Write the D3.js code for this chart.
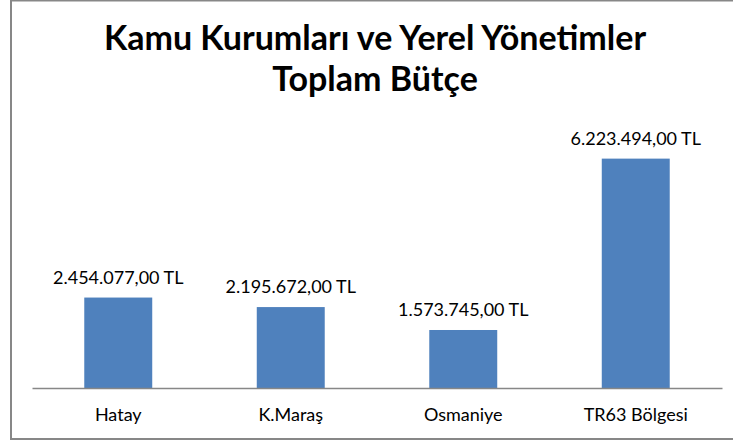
<!DOCTYPE html>
<html>
<head>
<meta charset="utf-8">
<script src="https://cdn.jsdelivr.net/npm/d3@7"></script>
<style>
  body { margin: 0; background: #fff; }
  svg { display: block; }
</style>
</head>
<body>
<div id="chart"></div>
<script>
const categories = ["Hatay", "K.Maraş", "Osmaniye", "TR63 Bölgesi"];
const values = [2454077, 2195672, 1573745, 6223494];
const valueLabels = ["2.454.077,00 TL", "2.195.672,00 TL", "1.573.745,00 TL", "6.223.494,00 TL"];
const titleLines = ["Kamu Kurumları ve Yerel Yönetimler", "Toplam Bütçe"];

const width = 733,
  height = 441,
  margin = { top: 130, right: 11, bottom: 53, left: 32 },
  font = "Lato, 'Open Sans', sans-serif";

const svg = d3
  .select("#chart")
  .append("svg")
  .attr("width", width)
  .attr("height", height);

// frame (right side falls outside the picture)
svg
  .append("path")
  .attr("d", `M11,0.5 H${width} M11,0 V439 H${width}`)
  .attr("fill", "none")
  .attr("stroke", "#878787")
  .attr("stroke-width", 2);

const xScale = d3
  .scaleBand()
  .domain(categories)
  .range([margin.left, width - margin.right])
  .paddingInner(0.606)
  .paddingOuter(0.303);

const yScale = d3
  .scaleLinear()
  .domain([0, 7000000])
  .range([height - margin.bottom, margin.top]);

svg
  .append("g")
  .selectAll("text")
  .data(titleLines)
  .join("text")
  .attr("x", 375)
  .attr("y", (d, i) => 50 + i * 41)
  .attr("text-anchor", "middle")
  .attr("font-family", font)
  .attr("font-weight", "bold")
  .attr("font-size", 34)
  .attr("fill", "#000")
  .text((d) => d);

svg
  .append("g")
  .selectAll("rect")
  .data(values)
  .join("rect")
  .attr("x", (d, i) => xScale(categories[i]))
  .attr("y", (d) => yScale(d))
  .attr("width", xScale.bandwidth())
  .attr("height", (d) => yScale(0) - yScale(d))
  .attr("fill", "#4f81bd");

svg
  .append("g")
  .selectAll("text")
  .data(values)
  .join("text")
  .attr("x", (d, i) => xScale(categories[i]) + xScale.bandwidth() / 2)
  .attr("y", (d) => yScale(d) - 14)
  .attr("text-anchor", "middle")
  .attr("font-family", font)
  .attr("font-size", 18)
  .attr("fill", "#000")
  .text((d, i) => valueLabels[i]);

const xAxis = svg
  .append("g")
  .attr("transform", `translate(0, ${yScale(0)})`)
  .call(d3.axisBottom(xScale).tickSize(0).tickPadding(20));

xAxis.select(".domain").attr("stroke", "#878787").attr("stroke-width", 1.3);
xAxis
  .selectAll("text")
  .attr("font-family", font)
  .attr("font-size", 18)
  .attr("fill", "#000");
</script>
</body>
</html>
